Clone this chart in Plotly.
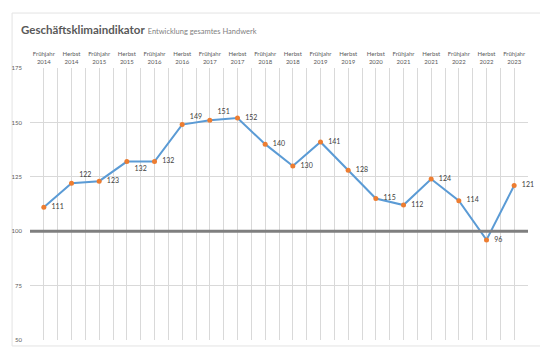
import plotly.graph_objects as go

categories = ["Frühjahr<br>2014", "Herbst<br>2014", "Frühjahr<br>2015", "Herbst<br>2015",
              "Frühjahr<br>2016", "Herbst<br>2016", "Frühjahr<br>2017", "Herbst<br>2017",
              "Frühjahr<br>2018", "Herbst<br>2018", "Frühjahr<br>2019", "Herbst<br>2019",
              "Herbst<br>2020", "Frühjahr<br>2021", "Herbst<br>2021", "Frühjahr<br>2022",
              "Herbst<br>2022", "Frühjahr<br>2023"]
values = [111, 122, 123, 132, 132, 149, 151, 152, 140, 130, 141, 128, 115, 112, 124, 114, 96, 121]
label_pos = ["middle right", "top right", "middle right", "bottom right", "middle right",
             "top right", "top right", "middle right", "middle right", "middle right",
             "middle right", "middle right", "middle right", "middle right", "middle right",
             "middle right", "middle right", "middle right"]
y_ticks = [50, 75, 100, 125, 150, 175]
reference_level = 100

xs = list(range(len(categories)))
font = "Lato"

fig = go.Figure()
fig.add_trace(go.Scatter(
    x=xs, y=values, mode="lines+markers+text",
    line=dict(color="#5B9BD5", width=2),
    marker=dict(color="#ED7D31", size=5),
    text=["  " + str(v) for v in values], textposition=label_pos,
    textfont=dict(family=font, size=7, color="#404040"),
    cliponaxis=False, showlegend=False,
))

fig.add_shape(type="line", xref="paper", yref="y", x0=0, x1=1,
              y0=reference_level, y1=reference_level,
              line=dict(color="#7F7F7F", width=3), layer="above")

# card frame
fig.add_shape(type="rect", xref="paper", yref="paper",
              x0=-0.036, x1=1.03, y0=-0.022, y1=1.202,
              line=dict(color="#E3E3E3", width=1), layer="below")

fig.add_annotation(xref="paper", yref="paper", x=-0.022, y=1.14, xanchor="left", yanchor="middle",
                   showarrow=False,
                   text="<b>Geschäftsklimaindikator</b> <span style='font-size:7.5px;color:#7F7F7F'>Entwicklung gesamtes Handwerk</span>",
                   font=dict(family=font, size=11.5, color="#595959"))

fig.update_layout(
    width=540, height=360,
    margin=dict(l=25, r=12, t=68, b=20),
    paper_bgcolor="white", plot_bgcolor="white",
    xaxis=dict(
        side="top", range=[-0.5, len(categories) - 0.5],
        tickmode="array", tickvals=xs, ticktext=categories,
        tickfont=dict(family=font, size=6, color="#595959"),
        showgrid=True, gridcolor="#D9D9D9", gridwidth=1,
        minor=dict(showgrid=True, tick0=-0.5, dtick=1, gridcolor="#D9D9D9", gridwidth=1),
        zeroline=False, showline=False, ticks="", ticklabelstandoff=2,
    ),
    yaxis=dict(
        range=[50, 175], tickvals=y_ticks,
        tickfont=dict(family=font, size=6, color="#595959"),
        showgrid=True, gridcolor="#D9D9D9", gridwidth=1,
        zeroline=False, showline=False, ticks="", ticklabelstandoff=7,
    ),
)

fig.write_html("out.html")
